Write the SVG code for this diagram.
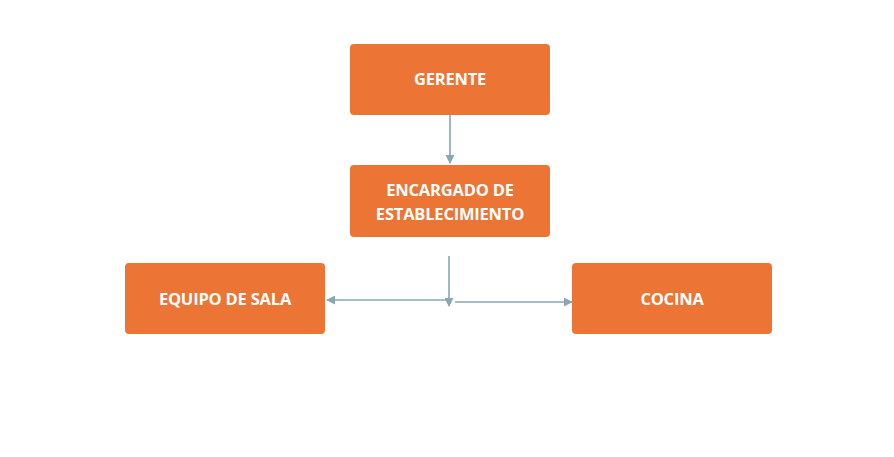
<svg xmlns="http://www.w3.org/2000/svg" width="894" height="457" viewBox="0 0 894 457">
<style>
.box{fill:#EC7535;}
.lbl{fill:#FFFFFF;font-family:"Open Sans",sans-serif;font-weight:bold;font-size:16.5px;text-anchor:middle;letter-spacing:-0.2px;}
.con{stroke:#86A7B5;stroke-width:1.6;fill:none;}
</style>
<defs>
<marker id="ah" viewBox="0 0 10 10" refX="9" refY="5" markerWidth="9" markerHeight="9" orient="auto" markerUnits="userSpaceOnUse">
<path d="M0,0 L10,5 L0,10 Z" fill="#86A7B5"/>
</marker>
</defs>
<rect width="894" height="457" fill="#FFFFFF"/>
<g id="connectors">
<line class="con" x1="450" y1="115" x2="450" y2="163" marker-end="url(#ah)"/>
<line class="con" x1="449" y1="256" x2="449" y2="306" marker-end="url(#ah)"/>
<line class="con" x1="446" y1="300" x2="327" y2="300" marker-end="url(#ah)"/>
<line class="con" x1="455" y1="302" x2="572" y2="302" marker-end="url(#ah)"/>
</g>
<g id="gerente">
<rect class="box" x="350" y="44" width="200" height="71" rx="4"/>
<text class="lbl" x="450" y="85">GERENTE</text>
</g>
<g id="encargado">
<rect class="box" x="350" y="165" width="200" height="72" rx="4"/>
<text class="lbl" x="450" y="196">ENCARGADO DE</text>
<text class="lbl" x="450" y="220">ESTABLECIMIENTO</text>
</g>
<g id="equipo">
<rect class="box" x="125" y="263" width="200" height="71" rx="4"/>
<text class="lbl" x="225" y="305">EQUIPO DE SALA</text>
</g>
<g id="cocina">
<rect class="box" x="572" y="263" width="200" height="71" rx="4"/>
<text class="lbl" x="672" y="305">COCINA</text>
</g>
</svg>
